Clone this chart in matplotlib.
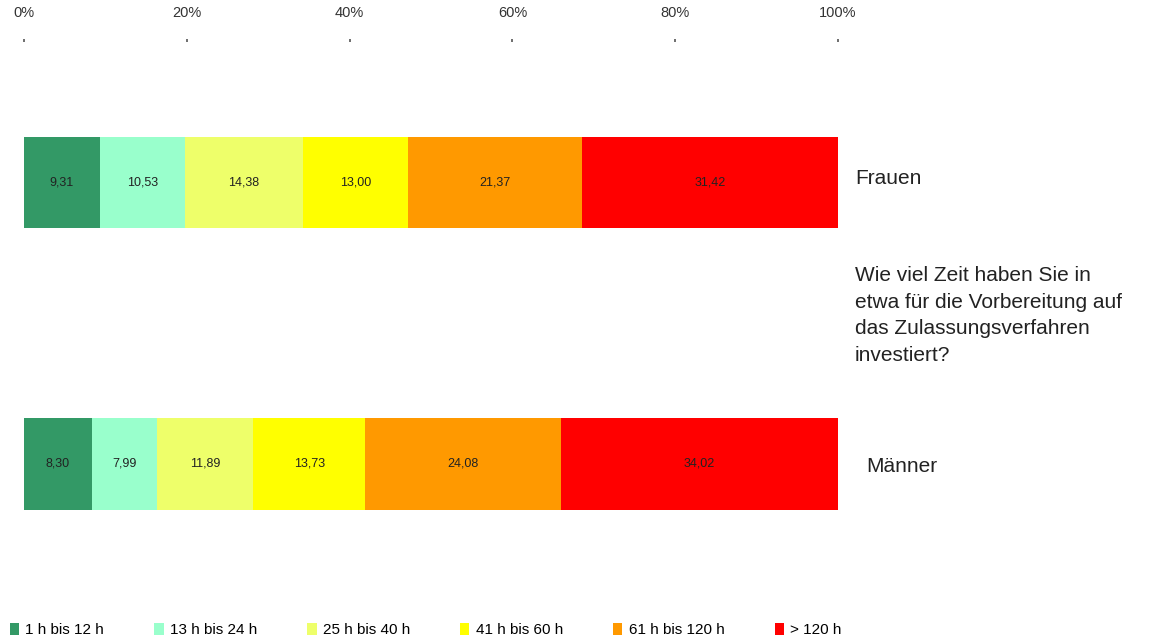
import matplotlib
matplotlib.use("Agg")
import matplotlib.pyplot as plt
import numpy as np

groups = ["Männer", "Frauen"]
categories = ["1 h bis 12 h", "13 h bis 24 h", "25 h bis 40 h", "41 h bis 60 h", "61 h bis 120 h", "> 120 h"]
frauen = [9.31, 10.53, 14.38, 13.00, 21.37, 31.42]
maenner = [8.30, 7.99, 11.89, 13.73, 24.08, 34.02]
colors = ["#339966", "#99FFCC", "#EEFF6A", "#FFFF00", "#FF9900", "#FF0000"]
xticks = [0, 20, 40, 60, 80, 100]
xtick_labels = ["0%", "20%", "40%", "60%", "80%", "100%"]
question = "Wie viel Zeit haben Sie in\netwa für die Vorbereitung auf\ndas Zulassungsverfahren\ninvestiert?"

plt.rcParams['font.family'] = ['Liberation Sans', 'DejaVu Sans']

W, H = 1152, 644
fig = plt.figure(figsize=(W/100, H/100), dpi=100)
ax = fig.add_axes([24/W, 1 - 560/H, (838-24)/W, (560-42)/H])

data = np.array([maenner, frauen])
totals = data.sum(axis=1, keepdims=True)
pct = data / totals * 100
ypos = np.arange(len(groups))
left = np.zeros(len(groups))
handles = []
for i, cat in enumerate(categories):
    b = ax.barh(ypos, pct[:, i], left=left, height=0.327, color=colors[i], label=cat, edgecolor='none')
    handles.append(b)
    for j in range(len(groups)):
        ax.text(left[j] + pct[j, i]/2, ypos[j], f"{data[j, i]:.2f}".replace('.', ','),
                ha='center', va='center', fontsize=9, color='#222222')
    left += pct[:, i]

ax.set_xlim(0, 100)
ax.set_ylim(-0.343, 1.5)
ax.xaxis.tick_top()
ax.set_xticks(xticks)
ax.set_xticklabels(xtick_labels, fontsize=10.5, color='#333333')
ax.tick_params(axis='x', length=2, width=1.2, color='#555555', pad=14, direction='out')
ax.set_yticks([])
for s in ax.spines.values():
    s.set_visible(False)

fig.text(855/W, 1 - 178/H, "Frauen", fontsize=15, va='center', ha='left', color='#222222')
fig.text(866/W, 1 - 466/H, "Männer", fontsize=15, va='center', ha='left', color='#222222')
fig.text(855/W, 1 - 266/H, question, fontsize=15, va='top', ha='left', color='#222222', linespacing=1.5)

fig.legend(handles=handles, labels=categories, loc='center left', bbox_to_anchor=(10/W, 1 - 630/H),
           ncol=6, frameon=False, fontsize=11, handlelength=0.6, handleheight=0.8,
           handletextpad=0.4, columnspacing=3.3, borderaxespad=0, borderpad=0)

fig.savefig("out.png", dpi=100, facecolor='white')
